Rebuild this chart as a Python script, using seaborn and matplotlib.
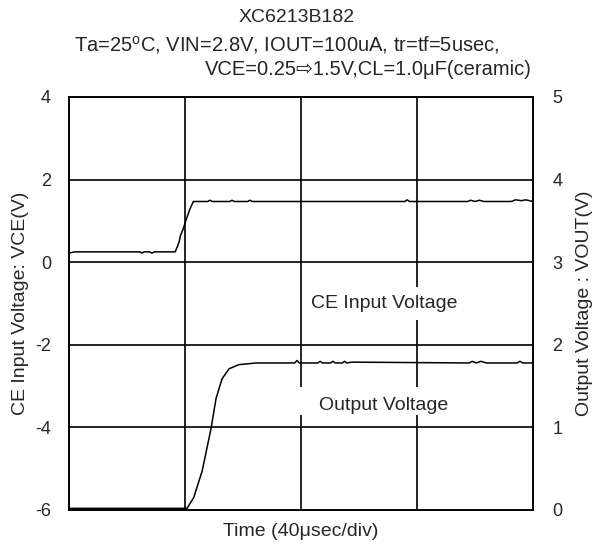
import matplotlib
matplotlib.use("Agg")
import matplotlib.pyplot as plt
from matplotlib.patches import Rectangle
import seaborn as sns
import pandas as pd

# ── Data (time in usec) ───────────────────────────────────────────────────────
ce_time = [0, 2, 24.5, 25.2, 25.9, 27.8, 28.6, 29.4, 36.6, 37.4, 38.0, 38.4,
           39.4, 40.5, 41.7, 42.9, 47.8, 48.6, 49.4, 55.4, 56.2, 57.0, 61.6,
           62.4, 63.2, 115.8, 116.6, 117.4, 137.5, 138.5, 140.0, 141.5, 143.0,
           152.5, 154.0, 156.0, 157.5, 160]
ce_volt = [0.22, 0.25, 0.25, 0.22, 0.25, 0.25, 0.22, 0.25, 0.25, 0.38, 0.50, 0.64,
           0.81, 1.05, 1.29, 1.47, 1.47, 1.50, 1.47, 1.47, 1.50, 1.47, 1.47,
           1.50, 1.47, 1.47, 1.51, 1.47, 1.47, 1.50, 1.47, 1.50, 1.47,
           1.47, 1.51, 1.49, 1.51, 1.47]

out_time = [0, 40.7, 43.0, 45.9, 49.0, 50.7, 52.8, 55.2, 58.6, 64.5, 77.8,
            78.6, 79.4, 85.8, 86.6, 87.4, 90.2, 91.0, 91.8, 94.2, 95.0, 95.8,
            97.6, 138.0, 139.0, 140.5, 142.0, 144.0, 154.5, 155.5, 156.5, 160]
out_volt = [0.02, 0.02, 0.15, 0.47, 0.99, 1.35, 1.59, 1.71, 1.76, 1.78, 1.78,
            1.81, 1.78, 1.78, 1.80, 1.78, 1.78, 1.80, 1.78, 1.78, 1.80, 1.78,
            1.79, 1.78, 1.80, 1.78, 1.80, 1.78, 1.78, 1.80, 1.78, 1.78]

left_ticks = [-6, -4, -2, 0, 2, 4]
right_ticks = [0, 1, 2, 3, 4, 5]
time_grid = [0, 40, 80, 120, 160]

ce_df = pd.DataFrame({"t": ce_time, "v": ce_volt})
out_df = pd.DataFrame({"t": out_time, "v": out_volt})

# ── Style ─────────────────────────────────────────────────────────────────────
sns.set_style("white")
plt.rcParams["font.family"] = ["Liberation Sans", "DejaVu Sans"]
plt.rcParams["mathtext.fontset"] = "custom"
plt.rcParams["mathtext.rm"] = "Liberation Sans"
plt.rcParams["axes.unicode_minus"] = False

FS = 14

fig = plt.figure(figsize=(5.94, 5.5), dpi=100)
ax = fig.add_axes([69 / 594, 1 - 510 / 550, 464 / 594, 413 / 550])
ax2 = ax.twinx()

# grid lines (black, like the scope graticule)
for t in time_grid[1:-1]:
    ax.axvline(t, color="black", lw=1.2, zorder=1)
for v in left_ticks[1:-1]:
    ax.axhline(v, color="black", lw=1.2, zorder=1)

sns.lineplot(data=ce_df, x="t", y="v", ax=ax, color="black", lw=1.1,
             estimator=None, sort=False, zorder=3)
sns.lineplot(data=out_df, x="t", y="v", ax=ax2, color="black", lw=1.1,
             estimator=None, sort=False, zorder=3)

ax.set_xlim(0, 160)
ax.set_ylim(-6, 4)
ax2.set_ylim(0, 5)
ax.set_xticks([])
ax.set_yticks(left_ticks)
ax2.set_yticks(right_ticks)
ax.tick_params(axis="y", length=0, pad=13, labelsize=13)
ax2.tick_params(axis="y", length=0, pad=14, labelsize=13)

for a in (ax, ax2):
    for s in a.spines.values():
        s.set_color("black")
        s.set_linewidth(1.2)

ax.set_xlabel("Time (40μsec/div)", fontsize=FS, labelpad=9)
ax.set_ylabel("CE Input Voltage: VCE(V)", fontsize=FS, labelpad=4)
ax2.set_ylabel("Output Voltage : VOUT(V)", fontsize=FS, labelpad=10)
ax2.set_xlabel("")

# curve labels, white backing breaks the graticule like the original
ax.add_patch(Rectangle((0.506, 0.46), 0.354, 0.08, transform=ax.transAxes,
                       facecolor="white", edgecolor="none", zorder=4))
ax.add_patch(Rectangle((0.498, 0.229), 0.34, 0.068, transform=ax.transAxes,
                       facecolor="white", edgecolor="none", zorder=4))
ax.text(0.68, 0.501, "CE Input Voltage", transform=ax.transAxes, fontsize=FS,
        ha="center", va="center", zorder=5)
ax.text(0.677, 0.254, "Output Voltage", transform=ax.transAxes, fontsize=FS,
        ha="center", va="center", zorder=5)
ax.set_zorder(ax2.get_zorder() + 1)
ax.patch.set_visible(False)

# title block
fig.text(297 / 594, 1 - 18 / 550, "XC6213B182", fontsize=FS, ha="center", va="center")
fig.text(287 / 594, 1 - 45 / 550,
         r"Ta=25$^\mathregular{o}$C, VIN=2.8V, IOUT=100uA, tr=tf=5usec,",
         fontsize=14.5, ha="center", va="center")
fig.text(532 / 594, 1 - 70 / 550, "VCE=0.25⇨1.5V,CL=1.0μF(ceramic)",
         fontsize=14.5, ha="right", va="center")

fig.savefig("out.png", dpi=100)
